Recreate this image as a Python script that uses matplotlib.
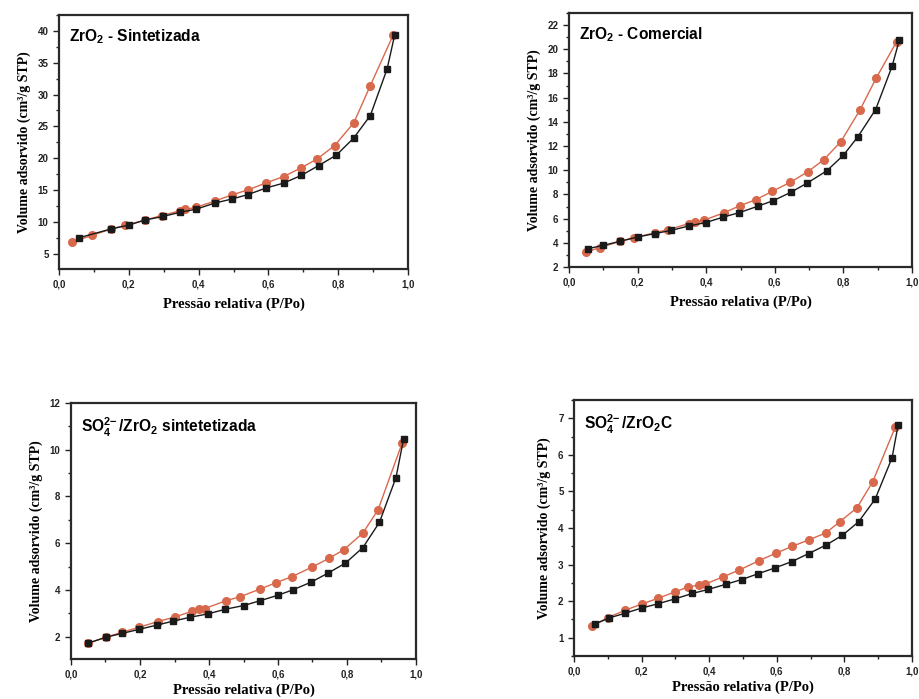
import matplotlib
matplotlib.use('Agg')
import matplotlib.pyplot as plt
from matplotlib.ticker import MultipleLocator, FuncFormatter

# ZrO2 - Sintetizada
p1_ads_x = [0.057, 0.15, 0.20, 0.247, 0.298, 0.346, 0.393, 0.446, 0.496, 0.542, 0.592, 0.644, 0.694, 0.744, 0.795, 0.844, 0.892, 0.94, 0.962]
p1_ads_y = [7.5, 8.9, 9.5, 10.3, 10.85, 11.5, 12.0, 12.95, 13.6, 14.3, 15.3, 16.1, 17.3, 18.85, 20.5, 23.15, 26.7, 34.0, 39.4]
p1_des_x = [0.957, 0.892, 0.845, 0.79, 0.74, 0.694, 0.644, 0.592, 0.542, 0.496, 0.446, 0.393, 0.362, 0.346, 0.294, 0.247, 0.19, 0.15, 0.095, 0.038]
p1_des_y = [39.3, 31.4, 25.6, 22.0, 19.9, 18.5, 17.13, 16.1, 15.04, 14.25, 13.26, 12.3, 11.95, 11.74, 10.99, 10.3, 9.45, 8.9, 7.9, 6.8]

# ZrO2 - Comercial
p2_ads_x = [0.056, 0.10, 0.148, 0.20, 0.25, 0.298, 0.349, 0.398, 0.448, 0.497, 0.55, 0.596, 0.647, 0.695, 0.751, 0.80, 0.842, 0.894, 0.942, 0.963]
p2_ads_y = [3.52, 3.79, 4.12, 4.48, 4.76, 5.03, 5.39, 5.67, 6.11, 6.5, 7.02, 7.49, 8.18, 8.95, 9.94, 11.24, 12.76, 15.02, 18.6, 20.76]
p2_des_x = [0.955, 0.896, 0.848, 0.792, 0.743, 0.697, 0.645, 0.593, 0.545, 0.499, 0.451, 0.395, 0.366, 0.349, 0.29, 0.25, 0.189, 0.148, 0.09, 0.049]
p2_des_y = [20.62, 17.64, 14.97, 12.34, 10.88, 9.89, 9.0, 8.26, 7.57, 7.08, 6.47, 5.89, 5.72, 5.59, 5.09, 4.84, 4.4, 4.12, 3.6, 3.24]

# SO4/ZrO2 sintetetizada
p3_ads_x = [0.048, 0.101, 0.149, 0.198, 0.248, 0.296, 0.346, 0.397, 0.447, 0.501, 0.549, 0.60, 0.643, 0.696, 0.744, 0.795, 0.846, 0.894, 0.942, 0.964]
p3_ads_y = [1.71, 1.97, 2.14, 2.31, 2.49, 2.66, 2.83, 2.97, 3.17, 3.33, 3.54, 3.77, 4.0, 4.33, 4.71, 5.14, 5.81, 6.89, 8.81, 10.46]
p3_des_x = [0.96, 0.89, 0.846, 0.79, 0.749, 0.698, 0.641, 0.595, 0.549, 0.491, 0.448, 0.388, 0.371, 0.352, 0.301, 0.251, 0.198, 0.149, 0.101, 0.048]
p3_des_y = [10.29, 7.43, 6.43, 5.71, 5.36, 4.97, 4.57, 4.31, 4.04, 3.71, 3.53, 3.2, 3.17, 3.09, 2.84, 2.64, 2.4, 2.19, 1.97, 1.71]

# SO4/ZrO2C
p4_ads_x = [0.061, 0.104, 0.151, 0.20, 0.249, 0.298, 0.35, 0.397, 0.449, 0.496, 0.545, 0.595, 0.644, 0.694, 0.745, 0.794, 0.842, 0.891, 0.941, 0.959]
p4_ads_y = [1.37, 1.54, 1.67, 1.81, 1.93, 2.06, 2.21, 2.32, 2.46, 2.59, 2.75, 2.91, 3.08, 3.3, 3.53, 3.8, 4.17, 4.79, 5.92, 6.82]
p4_des_x = [0.951, 0.884, 0.837, 0.786, 0.746, 0.696, 0.646, 0.597, 0.548, 0.489, 0.442, 0.387, 0.37, 0.338, 0.298, 0.249, 0.20, 0.151, 0.10, 0.054]
p4_des_y = [6.77, 5.27, 4.55, 4.17, 3.87, 3.68, 3.5, 3.31, 3.11, 2.85, 2.67, 2.46, 2.44, 2.39, 2.25, 2.08, 1.92, 1.75, 1.55, 1.32]

titles = [r'ZrO$_\mathbf{2}$ - Sintetizada', r'ZrO$_\mathbf{2}$ - Comercial',
          r'SO$_\mathbf{4}^\mathbf{2\!-}$/ZrO$_\mathbf{2}$ sintetetizada', r'SO$_\mathbf{4}^\mathbf{2\!-}$/ZrO$_\mathbf{2}$C']

plt.rcParams['mathtext.fontset'] = 'custom'
plt.rcParams['mathtext.rm'] = 'Liberation Sans:bold'
plt.rcParams['mathtext.bf'] = 'Liberation Sans:bold'
plt.rcParams['mathtext.it'] = 'Liberation Sans:bold'

ORANGE = '#d8694c'
BLACK = '#1a1a1a'

fig = plt.figure(figsize=(9.2, 6.99), dpi=100)

panels = [
    ([59/920, 1-269/699, 349/920, 254/699], p1_ads_x, p1_ads_y, p1_des_x, p1_des_y, (2.6, 42.5), 5, 2.5),
    ([569/920, 1-267/699, 343/920, 254/699], p2_ads_x, p2_ads_y, p2_des_x, p2_des_y, (2, 23), 2, 1),
    ([71/920, 1-659/699, 345/920, 256/699], p3_ads_x, p3_ads_y, p3_des_x, p3_des_y, (1.04, 12), 2, 1),
    ([574/920, 1-656/699, 338/920, 256/699], p4_ads_x, p4_ads_y, p4_des_x, p4_des_y, (0.5, 7.5), 1, 0.5),
]

comma = FuncFormatter(lambda v, pos: f'{v:.1f}'.replace('.', ','))

for i, (rect, ax_x, ax_y, de_x, de_y, ylim, major, minor) in enumerate(panels):
    ax = fig.add_axes(rect)
    ax.plot(ax_x, ax_y, '-s', color=BLACK, lw=1.0, ms=4.5, mfc=BLACK, mec=BLACK, zorder=3)
    ax.plot(de_x, de_y, '-o', color=ORANGE, lw=1.0, ms=5.5, mfc=ORANGE, mec=ORANGE, zorder=2)
    ax.set_xlim(0, 1.0)
    ax.set_ylim(*ylim)
    ax.xaxis.set_major_locator(MultipleLocator(0.2))
    ax.xaxis.set_minor_locator(MultipleLocator(0.1))
    ax.yaxis.set_major_locator(MultipleLocator(major))
    ax.yaxis.set_minor_locator(MultipleLocator(minor))
    ax.xaxis.set_major_formatter(comma)
    ax.tick_params(which='both', top=False, right=False, direction='out', width=1.0,
                   labelsize=7, colors='#222222')
    ax.tick_params(which='major', length=4)
    ax.tick_params(which='minor', length=2)
    for lab in ax.get_xticklabels() + ax.get_yticklabels():
        lab.set_fontfamily('Liberation Sans')
        lab.set_fontweight('bold')
    for s in ax.spines.values():
        s.set_linewidth(1.6)
        s.set_color('#2a2a2a')
    ax.set_xlabel('Pressão relativa (P/Po)', fontfamily='Liberation Serif', fontweight='bold',
                  fontsize=10.5, labelpad=6 if i < 2 else 3)
    ax.set_ylabel('Volume adsorvido (cm³/g STP)', fontfamily='Liberation Serif', fontweight='bold',
                  fontsize=10, labelpad=5)
    ax.text(0.03, 0.95, titles[i], transform=ax.transAxes, ha='left', va='top',
            fontfamily='Liberation Sans', fontweight='bold', fontsize=11.2)

fig.savefig('out.png', dpi=100)
